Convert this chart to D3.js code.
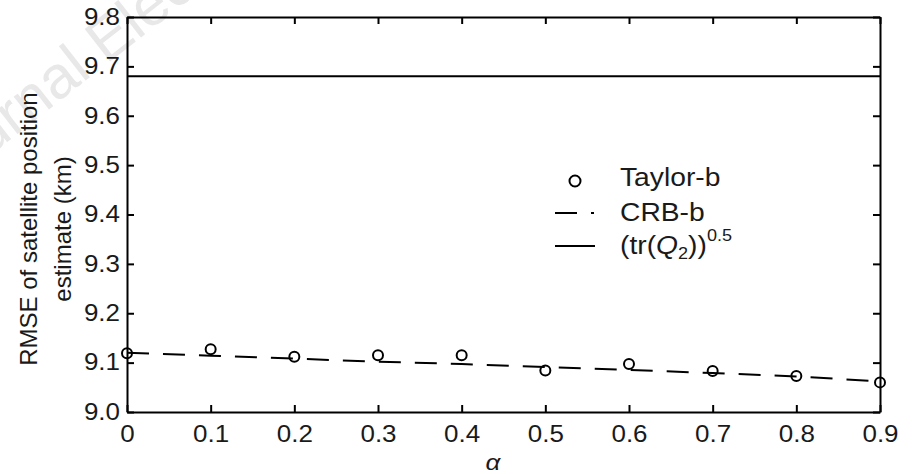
<!DOCTYPE html>
<html>
<head>
<meta charset="utf-8">
<script src="https://cdn.jsdelivr.net/npm/d3@7"></script>
<style>
  body { margin: 0; background: #fff; }
  svg { display: block; font-family: "Liberation Sans", Arial, sans-serif; }
</style>
</head>
<body>
<div id="chart"></div>
<script>
// values
var alpha = [0, 0.1, 0.2, 0.3, 0.4, 0.5, 0.6, 0.7, 0.8, 0.9];
var taylorB = [9.119, 9.127, 9.112, 9.115, 9.115, 9.084, 9.097, 9.083, 9.073, 9.060];
var crbB = [9.120, 9.114, 9.108, 9.102, 9.097, 9.091, 9.085, 9.079, 9.072, 9.062];
var trQ2 = [9.68, 9.68, 9.68, 9.68, 9.68, 9.68, 9.68, 9.68, 9.68, 9.68];

var xTicks = [0, 0.1, 0.2, 0.3, 0.4, 0.5, 0.6, 0.7, 0.8, 0.9];
var xTickLabels = ["0", "0.1", "0.2", "0.3", "0.4", "0.5", "0.6", "0.7", "0.8", "0.9"];
var yTicks = [9.0, 9.1, 9.2, 9.3, 9.4, 9.5, 9.6, 9.7, 9.8];
var yTickLabels = ["9.0", "9.1", "9.2", "9.3", "9.4", "9.5", "9.6", "9.7", "9.8"];

var W = 912, H = 474;
var margin = {top: 17, right: 32, bottom: 62, left: 127},
    width = W - margin.left - margin.right,
    height = H - margin.top - margin.bottom;
var sx = 1.13; // the source picture is a bit wider than tall

var root = d3.select("#chart").append("svg")
    .attr("width", W)
    .attr("height", H);

// faint watermark behind everything
root.append("text")
    .attr("transform", "translate(-62,196) rotate(-38)")
    .attr("font-size", 60)
    .attr("fill", "#e8e8e8")
    .text("Journal Electronic");

var svg = root.append("g")
    .attr("transform", "translate(" + margin.left + "," + margin.top + ")");

var x = d3.scaleLinear().domain([0, 0.9]).range([0, width]);
var y = d3.scaleLinear().domain([9.0, 9.8]).range([height, 0]);

function styleAxis(g) {
  g.select(".domain").attr("stroke", "#000").attr("stroke-width", 2);
  g.selectAll(".tick line").attr("stroke", "#000").attr("stroke-width", 2);
  g.selectAll(".tick text").attr("font-size", 23).attr("fill", "#1a1a1a")
    .attr("font-family", "Liberation Sans, Arial, sans-serif")
    .attr("x", function() { return (+d3.select(this).attr("x") || 0) / sx; })
    .attr("transform", "scale(" + sx + ",1)");
}

// bottom
svg.append("g")
    .attr("transform", "translate(0," + height + ")")
    .call(d3.axisBottom(x).tickValues(xTicks)
      .tickFormat(function(d, i) { return xTickLabels[i]; })
      .tickSizeInner(-7).tickSizeOuter(0).tickPadding(14))
    .call(styleAxis);
// top
svg.append("g")
    .call(d3.axisTop(x).tickValues(xTicks).tickFormat("")
      .tickSizeInner(-7).tickSizeOuter(0))
    .call(styleAxis);
// left
svg.append("g")
    .call(d3.axisLeft(y).tickValues(yTicks)
      .tickFormat(function(d, i) { return yTickLabels[i]; })
      .tickSizeInner(-7).tickSizeOuter(0).tickPadding(7))
    .call(styleAxis);
// right
svg.append("g")
    .attr("transform", "translate(" + width + ",0)")
    .call(d3.axisRight(y).tickValues(yTicks).tickFormat("")
      .tickSizeInner(-7).tickSizeOuter(0))
    .call(styleAxis);

// (tr(Q2))^0.5 solid line
var line = d3.line()
    .x(function(d, i) { return x(alpha[i]); })
    .y(function(d) { return y(d); });

svg.append("path")
    .datum(trQ2)
    .attr("fill", "none")
    .attr("stroke", "#000")
    .attr("stroke-width", 2)
    .attr("d", line);

// CRB-b dashed
svg.append("path")
    .datum(crbB)
    .attr("fill", "none")
    .attr("stroke", "#000")
    .attr("stroke-width", 2)
    .attr("stroke-dasharray", "22,14")
    .attr("d", line);

// Taylor-b circles
svg.selectAll(".pt")
    .data(taylorB)
    .enter().append("circle")
    .attr("class", "pt")
    .attr("cx", function(d, i) { return x(alpha[i]); })
    .attr("cy", function(d) { return y(d); })
    .attr("r", 5)
    .attr("fill", "none")
    .attr("stroke", "#000")
    .attr("stroke-width", 2);

// axis titles
root.append("text")
    .attr("transform", "translate(493,470) scale(" + sx + ",1)")
    .attr("text-anchor", "middle")
    .attr("font-size", 23)
    .attr("font-style", "italic")
    .attr("fill", "#1a1a1a")
    .text("α");

var ylab = root.append("text")
    .attr("transform", "translate(0,229) rotate(-90)")
    .attr("text-anchor", "middle")
    .attr("font-size", 24)
    .attr("fill", "#1a1a1a");
ylab.append("tspan").attr("x", 0).attr("y", 37).text("RMSE of satellite position");
ylab.append("tspan").attr("x", 0).attr("y", 71).text("estimate (km)");

// legend
var leg = root.append("g");

leg.append("circle")
    .attr("cx", 575).attr("cy", 181).attr("r", 5.5)
    .attr("fill", "none").attr("stroke", "#000").attr("stroke-width", 2);
leg.append("line")
    .attr("x1", 555).attr("x2", 594).attr("y1", 213).attr("y2", 213)
    .attr("stroke", "#000").attr("stroke-width", 2)
    .attr("stroke-dasharray", "22,14");
leg.append("line")
    .attr("x1", 555).attr("x2", 595).attr("y1", 246).attr("y2", 246)
    .attr("stroke", "#000").attr("stroke-width", 2);

var legText = [
  {y: 186, t: "Taylor-b"},
  {y: 221, t: "CRB-b"}
];
leg.selectAll(".lt")
    .data(legText)
    .enter().append("text")
    .attr("class", "lt")
    .attr("transform", function(d) { return "translate(620," + d.y + ") scale(" + sx + ",1)"; })
    .attr("font-size", 25)
    .attr("fill", "#1a1a1a")
    .text(function(d) { return d.t; });

var t3 = leg.append("text")
    .attr("transform", "translate(620,254) scale(" + sx + ",1)")
    .attr("font-size", 25)
    .attr("fill", "#1a1a1a");
t3.append("tspan").text("(tr(");
t3.append("tspan").attr("font-style", "italic").text("Q");
t3.append("tspan").attr("font-size", 16).attr("dy", 5).text("2");
t3.append("tspan").attr("dy", -5).text("))");
t3.append("tspan").attr("font-size", 16).attr("dy", -13).text("0.5");
</script>
</body>
</html>
